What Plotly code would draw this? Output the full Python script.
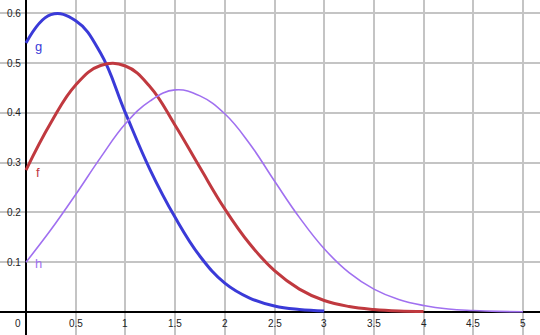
import plotly.graph_objects as go

g_x = [0, 0.25, 0.5, 0.75, 1.0, 1.25, 1.5, 1.75, 2.0, 2.25, 2.5, 2.75, 3.0]
g_y = [0.54, 0.597, 0.585, 0.52, 0.40, 0.285, 0.19, 0.112, 0.058, 0.028, 0.012, 0.005, 0.002]

f_x = [0, 0.25, 0.5, 0.75, 1.0, 1.25, 1.5, 1.75, 2.0, 2.25, 2.5, 2.75, 3.0, 3.25, 3.5, 3.75, 4.0]
f_y = [0.285, 0.38, 0.456, 0.495, 0.494, 0.452, 0.375, 0.29, 0.207, 0.137, 0.083, 0.046, 0.023, 0.011, 0.005, 0.002, 0.001]

h_x = [0, 0.25, 0.5, 0.75, 1.0, 1.25, 1.5, 1.75, 2.0, 2.25, 2.5, 2.75, 3.0, 3.25, 3.5, 3.75, 4.0, 4.25, 4.5, 4.75, 5.0]
h_y = [0.10, 0.165, 0.236, 0.31, 0.378, 0.424, 0.446, 0.434, 0.398, 0.338, 0.263, 0.19, 0.127, 0.079, 0.046, 0.025, 0.013, 0.006, 0.003, 0.0012, 0.0005]

names = ["g", "f", "h"]
colors = ["#3a3ad8", "#c0393f", "#a070f0"]
widths = [3, 3, 1.6]
label_x = [0.13, 0.12, 0.13]
label_y = [0.534, 0.281, 0.098]

x_ticks = [0.5, 1, 1.5, 2, 2.5, 3, 3.5, 4, 4.5, 5]
x_tick_text = ["0.5", "1", "1.5", "2", "2.5", "3", "3.5", "4", "4.5", "5"]
y_ticks = [0.1, 0.2, 0.3, 0.4, 0.5, 0.6]
y_tick_text = ["0.1", "0.2", "0.3", "0.4", "0.5", "0.6"]

fig = go.Figure()
for xs, ys, n, c, w in zip([g_x, f_x, h_x], [g_y, f_y, h_y], names, colors, widths):
    fig.add_trace(go.Scatter(x=xs, y=ys, mode="lines", name=n,
                             line=dict(color=c, width=w, shape="spline", smoothing=1.2),
                             hoverinfo="skip"))

ann = []
font = dict(family="Liberation Sans, Arial, sans-serif", size=10, color="#222")
for v, t in zip(x_ticks, x_tick_text):
    ann.append(dict(x=v, y=0, text=t, showarrow=False, xanchor="center", yanchor="top",
                    yshift=-4, font=font))
for v, t in zip(y_ticks, y_tick_text):
    ann.append(dict(x=0, y=v, text=t, showarrow=False, xanchor="right", yanchor="middle",
                    xshift=-3, font=font))
ann.append(dict(x=0, y=0, text="0", showarrow=False, xanchor="right", yanchor="top",
                xshift=-3, yshift=-4, font=font))
for n, c, lx, ly in zip(names, colors, label_x, label_y):
    ann.append(dict(x=lx, y=ly, text=n, showarrow=False, xanchor="center", yanchor="middle",
                    font=dict(family="Liberation Sans, Arial, sans-serif", size=13, color=c)))

fig.update_layout(
    width=540, height=335, margin=dict(l=0, r=0, t=0, b=0),
    paper_bgcolor="white", plot_bgcolor="white", showlegend=False,
    annotations=ann,
    xaxis=dict(range=[-0.2616, 5.171], tick0=0, dtick=0.5, showgrid=True,
               gridcolor="#c4c4c4", gridwidth=1.5, showticklabels=False,
               zeroline=True, zerolinecolor="black", zerolinewidth=2, fixedrange=True),
    yaxis=dict(range=[-0.0462, 0.6265], tick0=0, dtick=0.1, showgrid=True,
               gridcolor="#c4c4c4", gridwidth=1.5, showticklabels=False,
               zeroline=True, zerolinecolor="black", zerolinewidth=2, fixedrange=True),
)
fig.write_html("out.html", config={"displayModeBar": False})
